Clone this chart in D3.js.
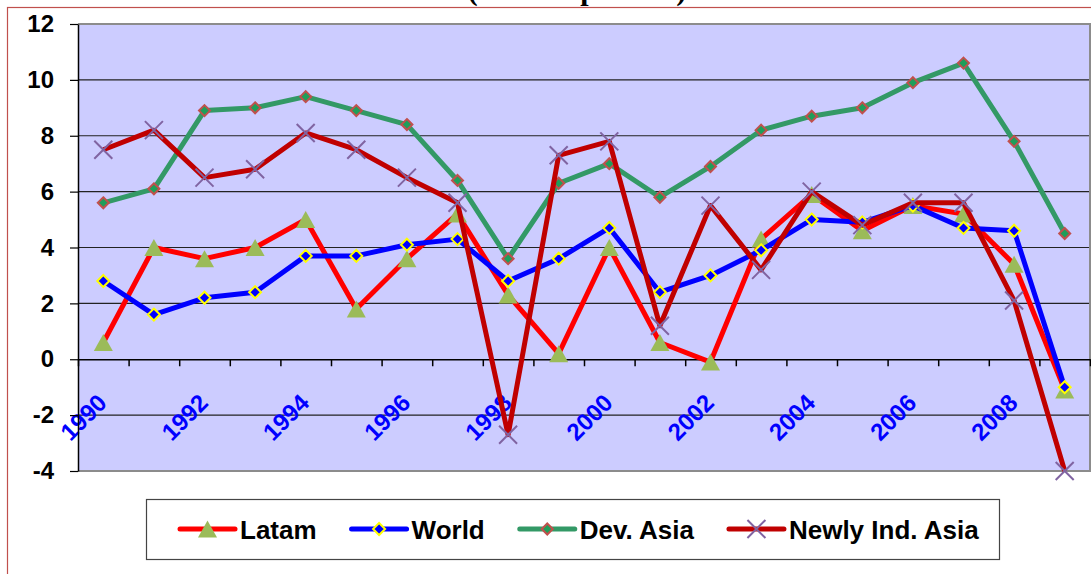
<!DOCTYPE html>
<html>
<head>
<meta charset="utf-8">
<script src="https://cdn.jsdelivr.net/npm/d3@7"></script>
<style>
  body { margin: 0; background: #fff; }
  svg { display: block; }
  text { font-family: "Liberation Sans", Arial, sans-serif; }
</style>
</head>
<body>
<div id="chart"></div>
<script>
// data (annual percent)
var years = [1990, 1991, 1992, 1993, 1994, 1995, 1996, 1997, 1998, 1999,
             2000, 2001, 2002, 2003, 2004, 2005, 2006, 2007, 2008, 2009]
var labelYears = [1990, 1992, 1994, 1996, 1998, 2000, 2002, 2004, 2006, 2008]
var yTicks = [-4, -2, 0, 2, 4, 6, 8, 10, 12]
var seriesNames = ["Latam", "World", "Dev. Asia", "Newly Ind. Asia"]

var latam   = [0.6, 4.0, 3.6, 4.0, 5.0, 1.8, 3.6, 5.2, 2.3, 0.2, 4.0, 0.6, -0.1, 4.3, 5.9, 4.6, 5.5, 5.2, 3.4, -1.1]
var world   = [2.8, 1.6, 2.2, 2.4, 3.7, 3.7, 4.1, 4.3, 2.8, 3.6, 4.7, 2.4, 3.0, 3.9, 5.0, 4.9, 5.5, 4.7, 4.6, -1.0]
var devAsia = [5.6, 6.1, 8.9, 9.0, 9.4, 8.9, 8.4, 6.4, 3.6, 6.3, 7.0, 5.8, 6.9, 8.2, 8.7, 9.0, 9.9, 10.6, 7.8, 4.5]
var nics    = [7.5, 8.2, 6.5, 6.8, 8.1, 7.5, 6.5, 5.6, -2.7, 7.3, 7.8, 1.2, 5.5, 3.2, 6.0, 4.8, 5.6, 5.6, 2.1, -4.0]

// styles per series
var styles = [
  {line: "#FF0000", marker: "triangle"},
  {line: "#0000FF", marker: "diamondBlue"},
  {line: "#339966", marker: "diamondGreen"},
  {line: "#C00000", marker: "cross"}
]
var series = [latam, world, devAsia, nics].map(function (vals, i) {
  return {name: seriesNames[i], values: vals, style: styles[i]}
})

var plot = {left: 78, right: 1090, top: 24, bottom: 471}

var svg = d3.select("#chart")
  .append("svg")
    .attr("width", 1091)
    .attr("height", 574)

// outer chart border (runs off the page on right/bottom)
svg.append("rect")
  .attr("x", 7.5).attr("y", 7.5)
  .attr("width", 1100).attr("height", 600)
  .attr("fill", "none")
  .attr("stroke", "#C0504D")
  .attr("stroke-width", 1.2)

// title, mostly cut off at the top
svg.append("text")
  .attr("x", 577)
  .attr("y", 0)
  .attr("text-anchor", "middle")
  .style("font-family", "'Liberation Serif', 'Times New Roman', serif")
  .style("font-weight", "bold")
  .style("font-size", "30px")
  .text("(Annual percent)")

// scales
var x = d3.scaleBand().domain(years).range([plot.left, plot.right]).padding(0)
function xc(yr) { return x(yr) + x.bandwidth() / 2 }
var y = d3.scaleLinear().domain([-4, 12]).range([plot.bottom, plot.top])
var xIdx = d3.scaleLinear().domain([0, years.length]).range([plot.left, plot.right])

// plot background
svg.append("rect")
  .attr("x", plot.left).attr("y", plot.top)
  .attr("width", plot.right - plot.left)
  .attr("height", plot.bottom - plot.top)
  .attr("fill", "#CCCCFF")

// gridlines
svg.append("g")
  .selectAll("line")
  .data(yTicks.filter(function (d) { return d !== 0 && d !== 12 && d !== -4 }))
  .join("line")
    .attr("x1", plot.left).attr("x2", plot.right)
    .attr("y1", function (d) { return y(d) }).attr("y2", function (d) { return y(d) })
    .attr("stroke", "#222")
    .attr("stroke-width", 1.2)

// gray frame top/right/bottom
svg.append("path")
  .attr("d", "M" + plot.left + "," + plot.top + "H" + plot.right + "V" + plot.bottom + "H" + plot.left)
  .attr("fill", "none")
  .attr("stroke", "#8C8C8C")
  .attr("stroke-width", 2)

// x axis on zero line, ticks between categories
var xAxis = svg.append("g")
  .attr("transform", "translate(0," + y(0) + ")")
  .call(d3.axisBottom(xIdx).ticks(years.length).tickFormat("").tickSize(7).tickSizeOuter(0))
xAxis.select(".domain").attr("stroke", "#000").attr("stroke-width", 1.5)
xAxis.selectAll(".tick line").attr("stroke", "#000").attr("stroke-width", 1.5)

// year labels, rotated
svg.append("g")
  .selectAll("text")
  .data(labelYears)
  .join("text")
    .attr("transform", function (d) { return "translate(" + (xc(d) + 5) + "," + (y(0) + 45) + ") rotate(-45)" })
    .attr("text-anchor", "end")
    .attr("fill", "#0000FF")
    .style("font-weight", "bold")
    .style("font-size", "24px")
    .text(function (d) { return d })

// y axis
var yAxis = svg.append("g")
  .attr("transform", "translate(" + plot.left + ",0)")
  .call(d3.axisLeft(y).tickValues(yTicks).tickSize(8).tickPadding(16).tickSizeOuter(0)
          .tickFormat(function (d) { return String(d) }))
yAxis.select(".domain").attr("stroke", "#000").attr("stroke-width", 1.5)
yAxis.selectAll(".tick line").attr("stroke", "#000").attr("stroke-width", 1.2)
yAxis.selectAll(".tick text")
  .attr("fill", "#000")
  .style("font-family", "'Liberation Sans', Arial, sans-serif")
  .style("font-weight", "bold")
  .style("font-size", "24px")

// marker drawing
function drawMarker(g, kind) {
  if (kind === "triangle") {
    g.append("path").attr("d", "M0,-8.5L9.5,8.5L-9.5,8.5Z").attr("fill", "#9BBB59")
  } else if (kind === "diamondBlue") {
    g.append("path").attr("d", "M0,-6L6,0L0,6L-6,0Z")
      .attr("fill", "#0000FF").attr("stroke", "#FFFF00").attr("stroke-width", 2)
  } else if (kind === "diamondGreen") {
    g.append("path").attr("d", "M0,-5.5L5.5,0L0,5.5L-5.5,0Z")
      .attr("fill", "#1E9E5A").attr("stroke", "#C0504D").attr("stroke-width", 2)
  } else {
    g.append("path").attr("d", "M-9,-9L9,9M9,-9L-9,9")
      .attr("fill", "none").attr("stroke", "#8064A2").attr("stroke-width", 2)
  }
}

var line = d3.line()
  .x(function (d, i) { return xc(years[i]) })
  .y(function (d) { return y(d) })

// lines and markers, series by series
series.forEach(function (s) {
  var g = svg.append("g")
  g.append("path")
    .attr("d", line(s.values))
    .attr("fill", "none")
    .attr("stroke", s.style.line)
    .attr("stroke-width", 5)
    .attr("stroke-linejoin", "round")
  g.selectAll("g.m")
    .data(s.values)
    .join("g")
      .attr("class", "m")
      .attr("transform", function (d, i) { return "translate(" + xc(years[i]) + "," + y(d) + ")" })
      .each(function () { drawMarker(d3.select(this), s.style.marker) })
})

// legend
svg.append("rect")
  .attr("x", 146.5).attr("y", 499.5)
  .attr("width", 853).attr("height", 60)
  .attr("fill", "#fff")
  .attr("stroke", "#444")
  .attr("stroke-width", 1.2)

var lx = 180
series.forEach(function (s) {
  var g = svg.append("g")
  g.append("line")
    .attr("x1", lx).attr("x2", lx + 55)
    .attr("y1", 529).attr("y2", 529)
    .attr("stroke", s.style.line)
    .attr("stroke-width", 5)
    .attr("stroke-linecap", "round")
  drawMarker(g.append("g").attr("transform", "translate(" + (lx + 27.5) + ",529)"), s.style.marker)
  var t = g.append("text")
    .attr("x", lx + 60)
    .attr("y", 539)
    .style("font-weight", "bold")
    .style("font-size", "26px")
    .text(s.name)
  lx += 60 + t.node().getComputedTextLength() + 35
})
</script>
</body>
</html>
